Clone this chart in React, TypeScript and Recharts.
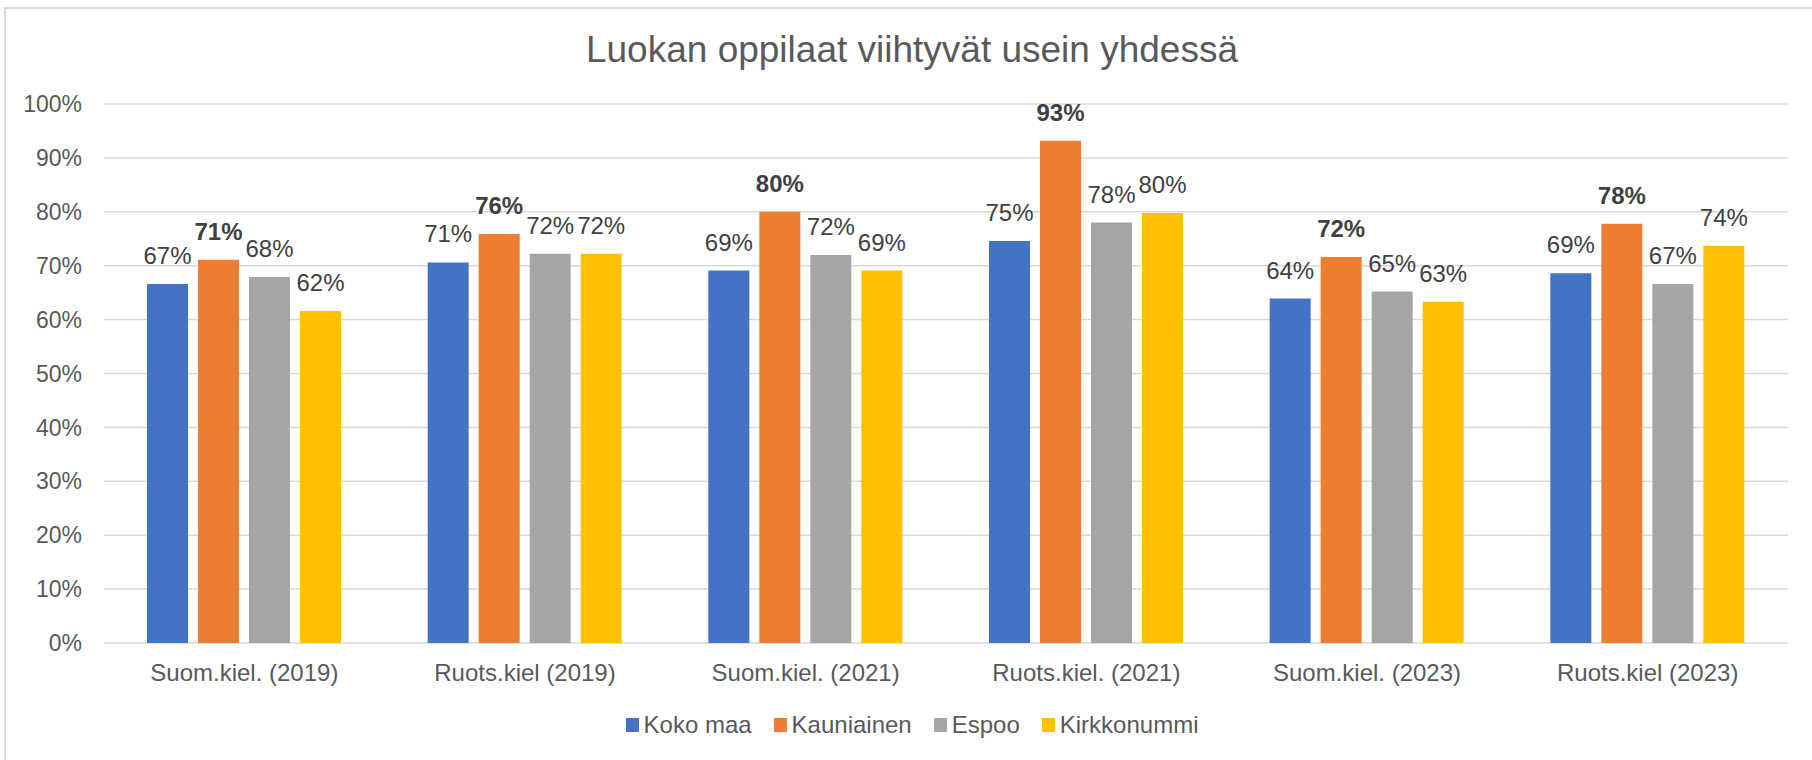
import { Bar, BarChart, CartesianGrid, LabelList, Legend, XAxis, YAxis } from 'recharts';

const categories = [
  'Suom.kiel. (2019)',
  'Ruots.kiel (2019)',
  'Suom.kiel. (2021)',
  'Ruots.kiel. (2021)',
  'Suom.kiel. (2023)',
  'Ruots.kiel (2023)',
];

// osuudet prosentteina
const kokoMaa = [66.6, 70.6, 69.1, 74.6, 63.9, 68.6];
const kauniainen = [71.1, 75.9, 80.0, 93.2, 71.6, 77.8];
const espoo = [67.9, 72.2, 72.0, 78.0, 65.2, 66.6];
const kirkkonummi = [61.6, 72.2, 69.1, 79.8, 63.3, 73.7];

const yTicks = [0, 10, 20, 30, 40, 50, 60, 70, 80, 90, 100];

const series = [
  { key: 'kokoMaa', name: 'Koko maa', color: '#4472C4', bold: false },
  { key: 'kauniainen', name: 'Kauniainen', color: '#ED7D31', bold: true },
  { key: 'espoo', name: 'Espoo', color: '#A5A5A5', bold: false },
  { key: 'kirkkonummi', name: 'Kirkkonummi', color: '#FFC000', bold: false },
];

const FONT = '"Liberation Sans", Arial, sans-serif';

const renderLegend = () => (
  <div
    style={{
      display: 'flex',
      justifyContent: 'center',
      alignItems: 'center',
      height: 30,
      fontFamily: FONT,
      fontSize: 24,
      color: '#595959',
    }}
  >
    {series.map((s) => (
      <div key={s.key} style={{ display: 'flex', alignItems: 'center', margin: '0 11px' }}>
        <span style={{ width: 13, height: 14, background: s.color, marginRight: 5, display: 'inline-block' }} />
        <span>{s.name}</span>
      </div>
    ))}
  </div>
);

const App = () => {
  const data = categories.map((c, i) => ({
    category: c,
    kokoMaa: kokoMaa[i],
    kauniainen: kauniainen[i],
    espoo: espoo[i],
    kirkkonummi: kirkkonummi[i],
  }));

  return (
    <div
      style={{
        position: 'absolute',
        left: 0,
        top: 0,
        width: 1812,
        height: 760,
        overflow: 'hidden',
        background: '#fff',
      }}
    >
      {/* kaavion reunus */}
      <div
        style={{
          position: 'absolute',
          left: 4,
          top: 7,
          width: 1900,
          height: 900,
          border: '2px solid #D9D9D9',
          boxSizing: 'border-box',
        }}
      />
      <div
        style={{
          position: 'absolute',
          left: 0,
          width: 1824,
          top: 31,
          textAlign: 'center',
          fontFamily: FONT,
          fontSize: 37,
          lineHeight: '37px',
          color: '#595959',
        }}
      >
        Luokan oppilaat viihtyvät usein yhdessä
      </div>
      <div style={{ position: 'absolute', left: 0, top: 0 }}>
        <BarChart
          width={1812}
          height={760}
          data={data}
          margin={{ top: 104, right: 24, left: 0, bottom: 27 }}
          barSize={41}
          barGap={10}
        >
          <CartesianGrid vertical={false} stroke="#D9D9D9" strokeWidth={1.5} />
          <XAxis
            dataKey="category"
            height={60}
            axisLine={false}
            tickLine={false}
            tickSize={0}
            tickMargin={21}
            interval={0}
            tick={{ fill: '#595959', fontSize: 24, fontFamily: FONT }}
          />
          <YAxis
            width={104}
            domain={[0, 100]}
            ticks={yTicks}
            axisLine={false}
            tickLine={false}
            tickSize={0}
            tickMargin={22}
            tickFormatter={(v) => `${v}%`}
            tick={{ fill: '#595959', fontSize: 23, fontFamily: FONT }}
          />
          <Legend
            verticalAlign="bottom"
            content={renderLegend}
            wrapperStyle={{ left: 0, width: 1824, bottom: 20 }}
          />
          {series.map((s) => (
            <Bar key={s.key} dataKey={s.key} name={s.name} fill={s.color} isAnimationActive={false}>
              <LabelList
                dataKey={s.key}
                position="top"
                offset={20}
                formatter={(v: number) => `${Math.round(v)}%`}
                style={{
                  fill: '#404040',
                  fontSize: 24,
                  fontFamily: FONT,
                  fontWeight: s.bold ? 'bold' : 'normal',
                }}
              />
            </Bar>
          ))}
        </BarChart>
      </div>
    </div>
  );
};

export default App;
